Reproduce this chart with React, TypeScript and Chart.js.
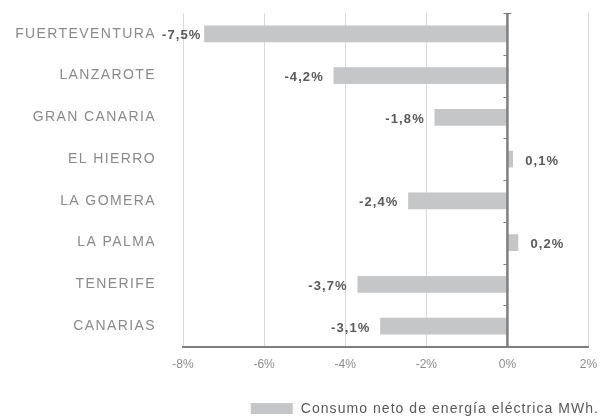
import { useEffect, useRef } from 'react';
import { Chart, registerables } from 'chart.js';

Chart.register(...registerables);

const categories = [
  'FUERTEVENTURA',
  'LANZAROTE',
  'GRAN CANARIA',
  'EL HIERRO',
  'LA GOMERA',
  'LA PALMA',
  'TENERIFE',
  'CANARIAS',
];
const values = [-7.47, -4.28, -1.79, 0.13, -2.44, 0.26, -3.69, -3.13];
const valueLabels = ['-7,5%', '-4,2%', '-1,8%', '0,1%', '-2,4%', '0,2%', '-3,7%', '-3,1%'];
const xMin = -8;
const xMax = 2;
const xStep = 2;
const seriesName = 'Consumo neto de energía eléctrica MWh.';

const FONT = '"Liberation Sans", Arial, sans-serif';
const BAR_COLOR = '#c5c6c8';
const LABEL_DARK = '#595959';
const LABEL_GRAY = '#8a8a8a';

const overlayPlugin = {
  id: 'overlay',
  afterDatasetsDraw(chart: any) {
    const { ctx, chartArea } = chart;
    const xs = chart.scales.x;
    const x0 = xs.getPixelForValue(0);
    ctx.save();
    // zero line on top of bars
    ctx.strokeStyle = '#7f7f7f';
    ctx.lineWidth = 2.5;
    ctx.beginPath();
    ctx.moveTo(x0, chartArea.top);
    ctx.lineTo(x0, chartArea.bottom);
    ctx.stroke();
    // category boundary tick marks
    ctx.lineWidth = 1;
    const n = categories.length;
    const step = (chartArea.bottom - chartArea.top) / n;
    for (let k = 0; k < n; k++) {
      const yy = Math.round(chartArea.top + k * step) + 0.5;
      ctx.beginPath();
      ctx.moveTo(x0 - 4, yy);
      ctx.lineTo(k === 0 ? x0 + 4 : x0, yy);
      ctx.stroke();
    }
    // data labels
    const meta = chart.getDatasetMeta(0);
    ctx.font = `bold 13px ${FONT}`;
    (ctx as any).letterSpacing = '1.1px';
    ctx.fillStyle = LABEL_DARK;
    ctx.textBaseline = 'middle';
    meta.data.forEach((bar: any, i: number) => {
      const v = values[i];
      const text = valueLabels[i];
      const w = ctx.measureText(text).width;
      const cy = bar.y + 2;
      if (v < 0) {
        ctx.textAlign = 'right';
        const rx = Math.max(bar.x - 10, chartArea.left - 21 + w);
        ctx.fillText(text, rx, cy);
      } else {
        ctx.textAlign = 'left';
        ctx.fillText(text, bar.x + 12.5, cy);
      }
    });
    ctx.restore();
  },
  afterDraw(chart: any) {
    const { ctx } = chart;
    ctx.save();
    ctx.font = `14px ${FONT}`;
    (ctx as any).letterSpacing = '1.05px';
    const tw = ctx.measureText(seriesName).width;
    const tx = chart.width - 4 - tw;
    const cy = chart.height - 7;
    ctx.fillStyle = BAR_COLOR;
    ctx.fillRect(tx - 8 - 42, cy - 6, 42, 11);
    ctx.fillStyle = LABEL_DARK;
    ctx.textAlign = 'left';
    ctx.textBaseline = 'middle';
    ctx.fillText(seriesName, tx, cy);
    ctx.restore();
  },
};

export default function App() {
  const canvasRef = useRef<HTMLCanvasElement | null>(null);

  useEffect(() => {
    document.body.style.margin = '0';
    const canvas = canvasRef.current;
    if (!canvas) return;
    const chart = new Chart(canvas, {
      type: 'bar',
      data: {
        labels: categories,
        datasets: [
          {
            label: seriesName,
            data: values,
            backgroundColor: BAR_COLOR,
            borderWidth: 0,
            barThickness: 16,
          },
        ],
      },
      plugins: [overlayPlugin],
      options: {
        indexAxis: 'y',
        responsive: false,
        animation: false,
        devicePixelRatio: 1,
        layout: { padding: { top: 13, right: 14.5, left: 0, bottom: 0 } },
        plugins: {
          legend: { display: false },
          tooltip: { enabled: false },
        },
        scales: {
          x: {
            type: 'linear',
            min: xMin,
            max: xMax,
            ticks: {
              stepSize: xStep,
              callback: (v: any) => `${v}%`,
              font: { family: FONT, size: 12 },
              color: '#8c8c8c',
              padding: 10,
            },
            grid: {
              color: '#d9d9d9',
              lineWidth: 1,
              drawTicks: false,
            },
            border: { display: true, color: '#7f7f7f', width: 2 },
            afterFit: (scale: any) => {
              scale.height = 69;
              scale.paddingLeft = 0;
              scale.paddingRight = 0;
              scale.paddingTop = 0;
              scale.paddingBottom = 0;
            },
          },
          y: {
            type: 'category',
            grid: { display: false, drawTicks: false },
            border: { display: false },
            ticks: {
              font: { family: FONT, size: 14 },
              color: LABEL_GRAY,
              padding: 27,
            },
            afterFit: (scale: any) => {
              scale.width = 183;
              scale.paddingLeft = 0;
              scale.paddingRight = 0;
              scale.paddingTop = 0;
              scale.paddingBottom = 0;
              if (!scale.__patched) {
                scale.__patched = true;
                const orig = scale.drawLabels.bind(scale);
                scale.drawLabels = (area: any) => {
                  const c = scale.ctx;
                  c.save();
                  c.letterSpacing = '1.4px';
                  orig(area);
                  c.restore();
                };
              }
            },
          },
        },
      },
    } as any);
    return () => chart.destroy();
  }, []);

  return (
    <div style={{ width: 603, height: 416 }}>
      <canvas ref={canvasRef} width={603} height={416} style={{ display: 'block' }} />
    </div>
  );
}
